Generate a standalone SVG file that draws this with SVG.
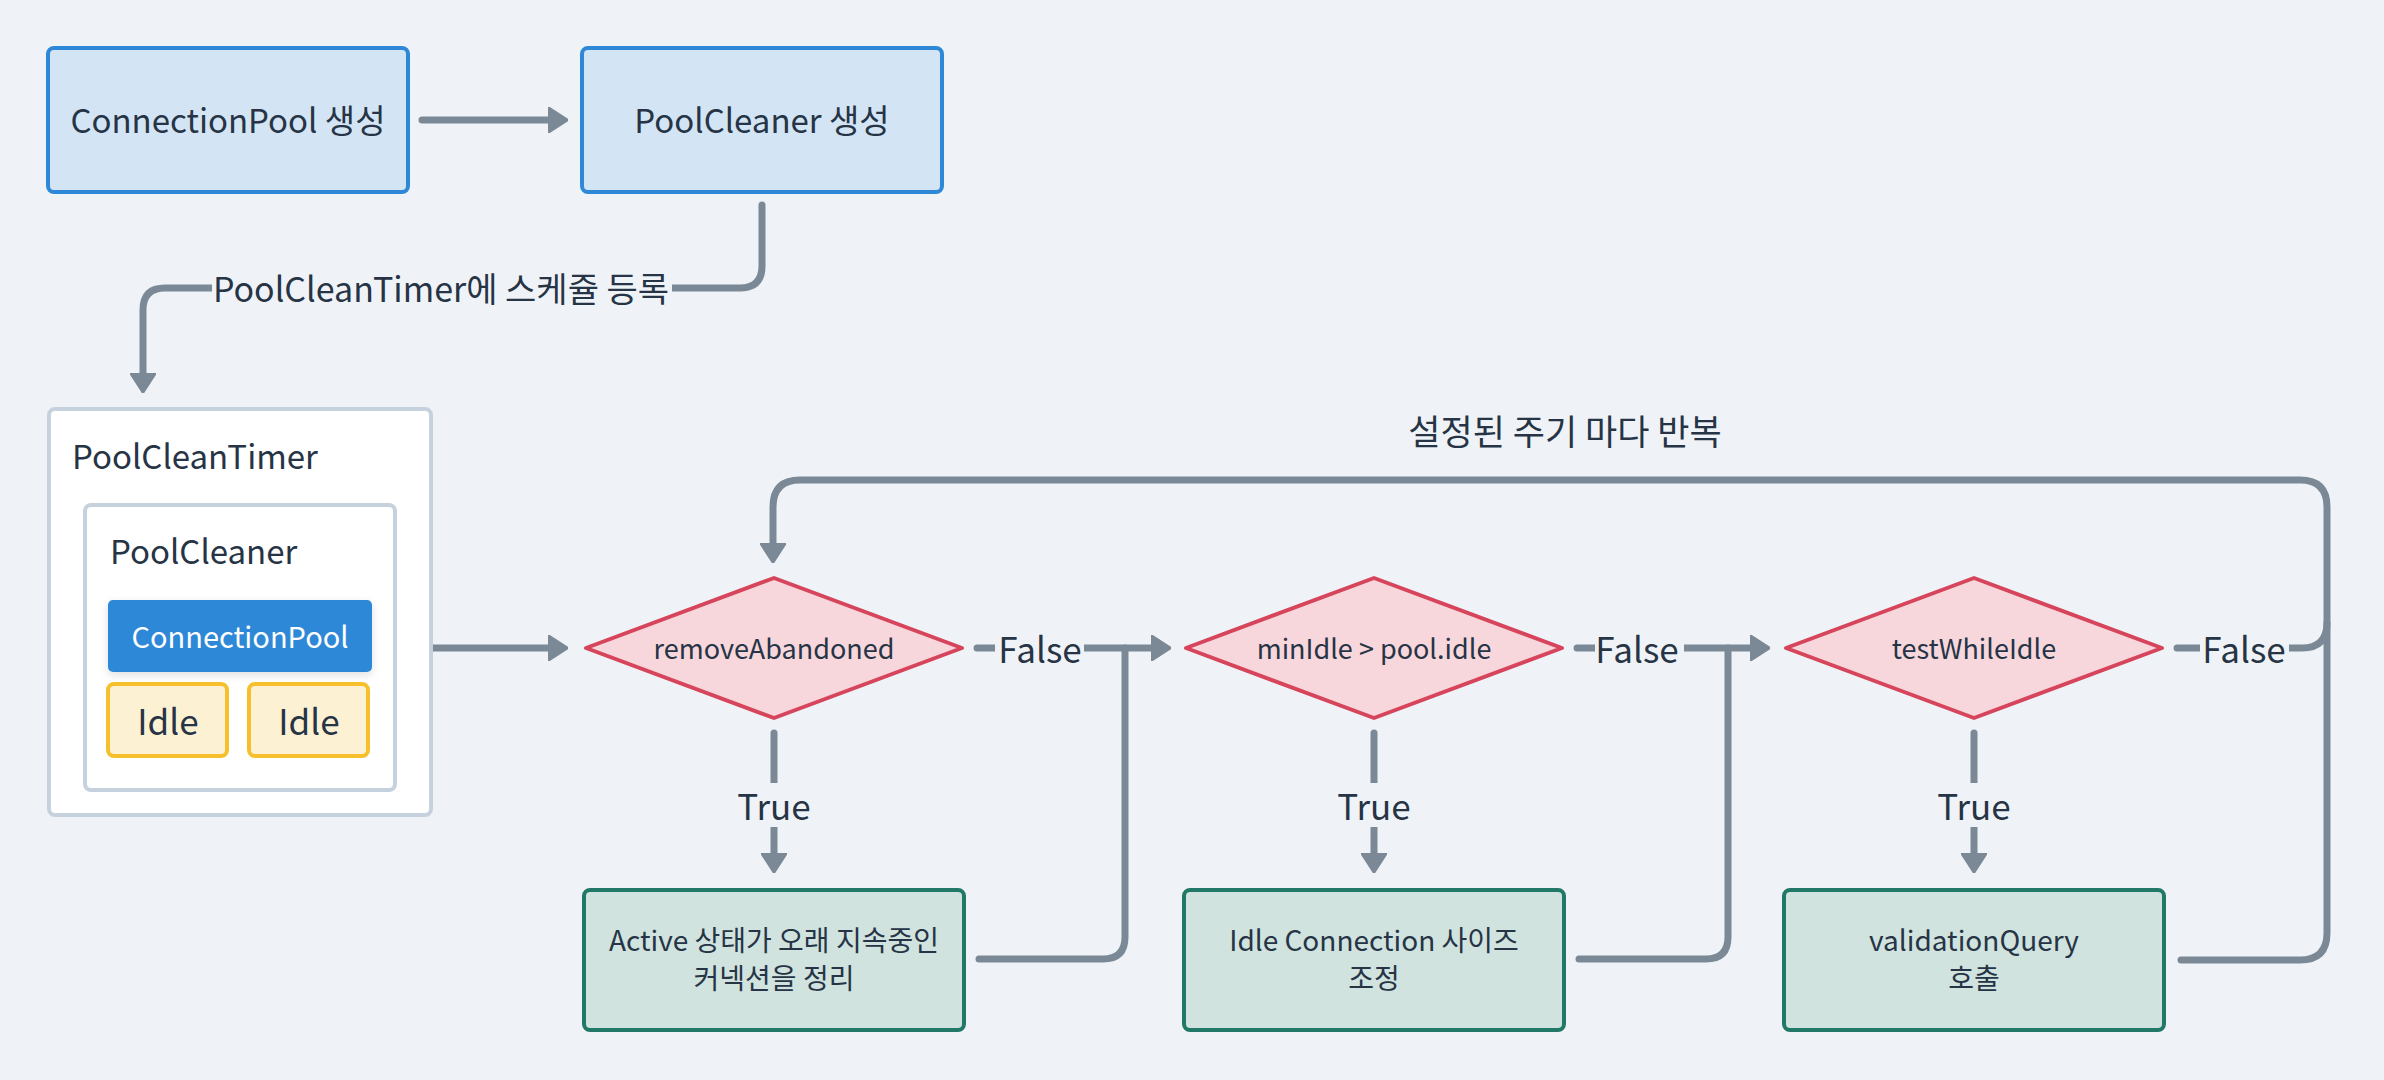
<svg xmlns="http://www.w3.org/2000/svg" width="2384" height="1080" viewBox="0 0 2384 1080">
<defs>
<style>
text{font-family:"Noto Sans CJK KR","Noto Sans",sans-serif;fill:#263445;text-anchor:middle;dominant-baseline:central}
.big{font-size:33px}
.lab{font-size:35px}
.mid{font-size:29px}
.dtx{font-size:27px}
.sm{font-size:28px}
.blue{fill:#d3e5f5;stroke:#2d88d8;stroke-width:4}
.cont{fill:#ffffff;stroke:#c5d1dc;stroke-width:4}
.idle{fill:#fdf1d3;stroke:#f5c02c;stroke-width:4}
.dia{fill:#f7d7dc;stroke:#d6455b;stroke-width:4;stroke-linejoin:round}
.green{fill:#d0e3df;stroke:#217866;stroke-width:4}
.edge{fill:none;stroke:#7b8997;stroke-width:7;stroke-linecap:round;stroke-linejoin:round}
.lbg{fill:#eff3f7}
</style>
<marker id="arr" viewBox="0 0 20 26" refX="10" refY="13" markerWidth="20" markerHeight="26" markerUnits="userSpaceOnUse" orient="auto">
<path d="M0,0 L20,13 L0,26 z" fill="#7b8997" stroke="#7b8997" stroke-width="2" stroke-linejoin="round"/>
</marker>
<filter id="sh" x="-10%" y="-10%" width="120%" height="140%">
<feDropShadow dx="0" dy="3" stdDeviation="4" flood-color="#000" flood-opacity="0.12"/>
</filter>
</defs>
<rect width="2384" height="1080" fill="#eff3f7"/>

<g id="connectors">
<path class="edge" d="M422 120 H558" marker-end="url(#arr)"/>
<path class="edge" d="M762 205 V266 Q762 288 740 288 H165 Q143 288 143 310 V383" marker-end="url(#arr)"/>
<path class="edge" d="M410 648 H558" marker-end="url(#arr)"/>
<path class="edge" d="M977 648 H1161" marker-end="url(#arr)"/>
<path class="edge" d="M979 959 H1103 Q1125 959 1125 937 V648"/>
<path class="edge" d="M774 733 V863" marker-end="url(#arr)"/>
<path class="edge" d="M1577 648 H1760" marker-end="url(#arr)"/>
<path class="edge" d="M1579 959 H1706 Q1728 959 1728 937 V648"/>
<path class="edge" d="M1374 733 V863" marker-end="url(#arr)"/>
<path class="edge" d="M2177 648 H2302 Q2327 648 2327 623"/>
<path class="edge" d="M2181 960 H2300 Q2327 960 2327 933 V507 Q2327 480 2300 480 H800 Q773 480 773 507 V553" marker-end="url(#arr)"/>
<path class="edge" d="M1974 733 V863" marker-end="url(#arr)"/>
<rect class="lbg" x="212" y="266" width="460" height="44"/>
<text class="big" x="441" y="287" style="font-size:34px">PoolCleanTimer에 스케쥴 등록</text>
<rect class="lbg" x="995" y="626" width="89" height="44"/>
<text class="lab" x="1040" y="647">False</text>
<rect class="lbg" x="1595" y="626" width="89" height="44"/>
<text class="lab" x="1637" y="647">False</text>
<rect class="lbg" x="2200" y="626" width="89" height="44"/>
<text class="lab" x="2244" y="647">False</text>
<rect class="lbg" x="740" y="783" width="68" height="44"/>
<text class="lab" x="774" y="804">True</text>
<rect class="lbg" x="1340" y="783" width="68" height="44"/>
<text class="lab" x="1374" y="804">True</text>
<rect class="lbg" x="1940" y="783" width="68" height="44"/>
<text class="lab" x="1974" y="804">True</text>
<text class="big" x="1565" y="429" style="font-size:35px">설정된 주기 마다 반복</text>
</g>

<g id="n-connectionpool">
<rect class="blue" x="48" y="48" width="360" height="144" rx="6"/>
<text class="big" x="228" y="119">ConnectionPool 생성</text>
</g>
<g id="n-poolcleaner">
<rect class="blue" x="582" y="48" width="360" height="144" rx="6"/>
<text class="big" x="762" y="119">PoolCleaner 생성</text>
</g>

<g id="n-poolcleantimer">
<rect class="cont" x="49" y="409" width="382" height="406" rx="6"/>
<text class="big" x="72" y="455" style="text-anchor:start">PoolCleanTimer</text>
</g>
<g id="n-poolcleaner-inner">
<rect class="cont" x="85" y="505" width="310" height="285" rx="6"/>
<text class="big" x="110" y="550" style="text-anchor:start">PoolCleaner</text>
</g>
<g id="n-cp-inner">
<rect x="108" y="600" width="264" height="72" rx="5" fill="#2e88d8" filter="url(#sh)"/>
<text class="mid" x="240" y="635" style="fill:#ffffff">ConnectionPool</text>
</g>
<g id="n-idle1">
<rect class="idle" x="108" y="684" width="119" height="72" rx="6"/>
<text class="lab" x="168" y="719">Idle</text>
</g>
<g id="n-idle2">
<rect class="idle" x="249" y="684" width="119" height="72" rx="6"/>
<text class="lab" x="309" y="719">Idle</text>
</g>

<g id="n-d1">
<polygon class="dia" points="774,578 962,648 774,718 586,648"/>
<text class="dtx" x="774" y="647">removeAbandoned</text>
</g>
<g id="n-d2">
<polygon class="dia" points="1374,578 1562,648 1374,718 1186,648"/>
<text class="dtx" x="1374" y="647">minIdle &gt; pool.idle</text>
</g>
<g id="n-d3">
<polygon class="dia" points="1974,578 2162,648 1974,718 1786,648"/>
<text class="dtx" x="1974" y="647">testWhileIdle</text>
</g>

<g id="n-b1">
<rect class="green" x="584" y="890" width="380" height="140" rx="6"/>
<text class="sm" x="774" y="939">Active 상태가 오래 지속중인</text>
<text class="sm" x="774" y="977">커넥션을 정리</text>
</g>
<g id="n-b2">
<rect class="green" x="1184" y="890" width="380" height="140" rx="6"/>
<text class="sm" x="1374" y="939">Idle Connection 사이즈</text>
<text class="sm" x="1374" y="977">조정</text>
</g>
<g id="n-b3">
<rect class="green" x="1784" y="890" width="380" height="140" rx="6"/>
<text class="sm" x="1974" y="939">validationQuery</text>
<text class="sm" x="1974" y="977">호출</text>
</g>
</svg>
